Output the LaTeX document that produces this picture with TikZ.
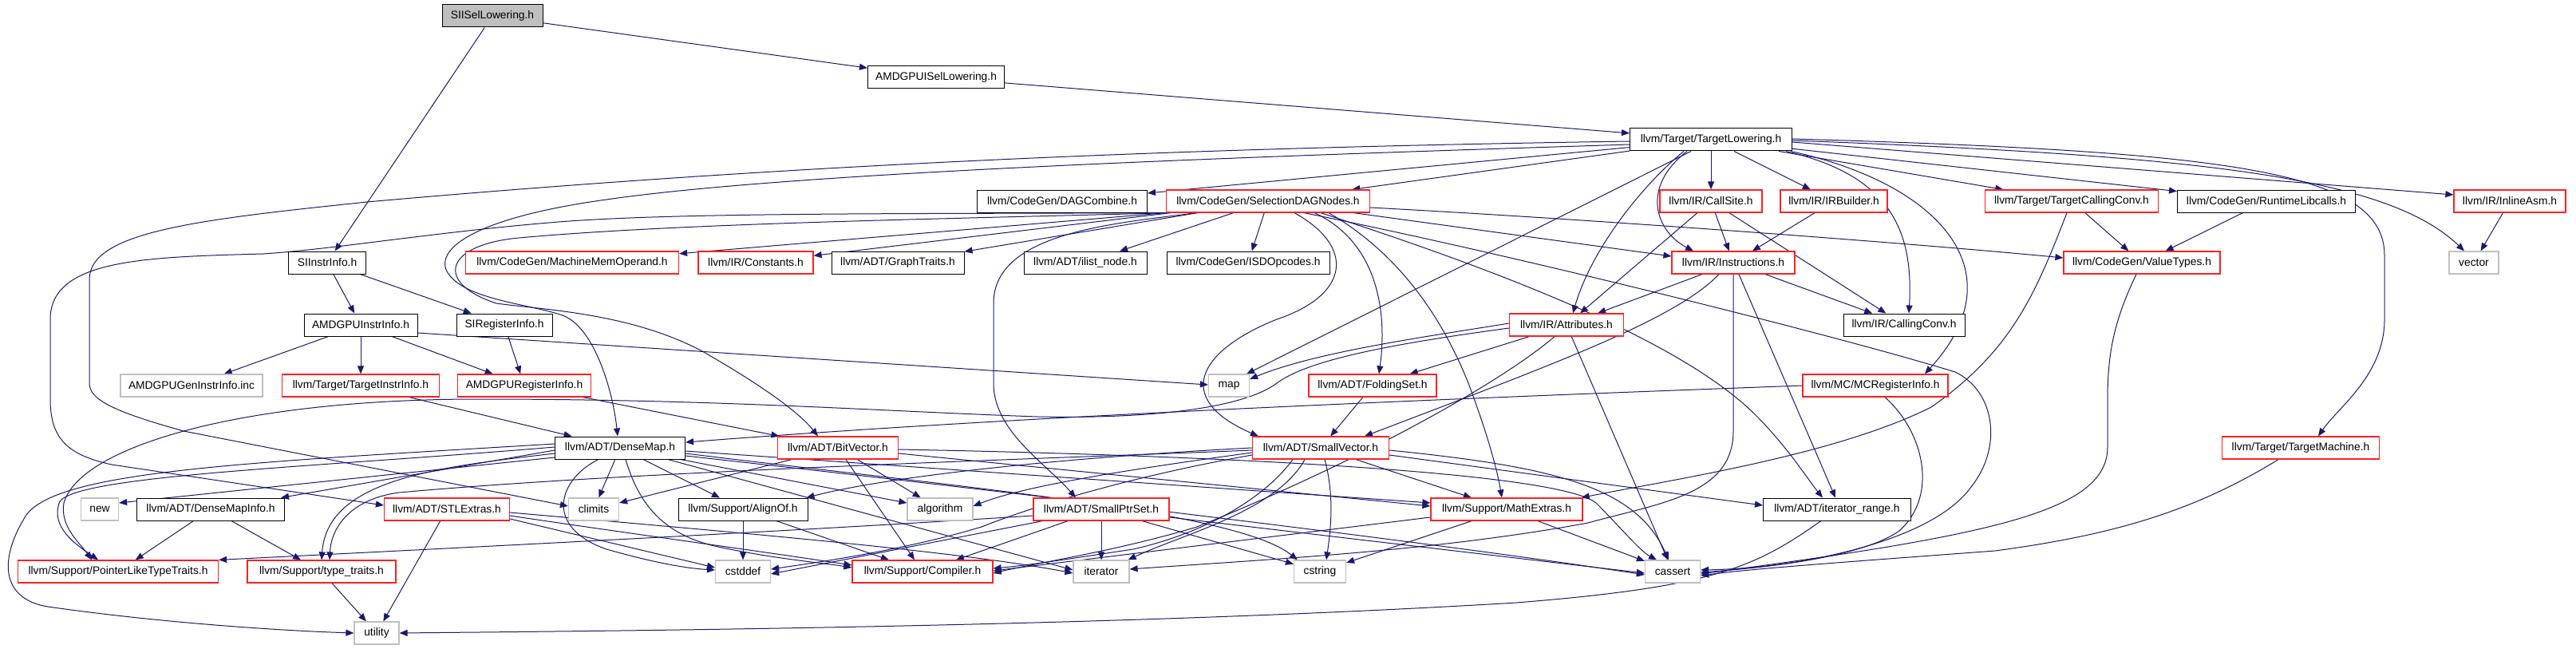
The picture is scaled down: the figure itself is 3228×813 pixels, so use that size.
\documentclass[tikz,border=0pt]{standalone}
\usepackage{fontspec}
\setmainfont{Liberation Sans}
\usetikzlibrary{arrows.meta,calc}
\pgfdeclarelayer{bg}
\pgfsetlayers{bg,main}
\definecolor{edgec}{HTML}{191970}
\definecolor{extgray}{HTML}{BFBFBF}
\definecolor{trunc}{HTML}{FF2020}
\tikzset{
  nblk/.style={draw=black, line width=1pt, minimum height=28pt, inner sep=0pt, fill=white, font=\fontsize{13.8}{16}\selectfont},
  nred/.style={nblk, draw=trunc, line width=1.2pt},
  ngray/.style={nblk, draw=extgray, line width=1.2pt},
  edg/.style={draw=edgec, line width=1pt, -{Triangle[length=10pt,width=8pt]}},
}
\begin{document}
\begin{tikzpicture}[x=1pt,y=-1pt]
\useasboundingbox (0,0) rectangle (3228,813);
% nodes
\node[nblk, fill=extgray, minimum width=126pt] (sisel) at (617,20) {SIISelLowering.h};
\node[nblk, minimum width=171pt] (amdisel) at (1173,97) {AMDGPUISelLowering.h};
\node[nblk, minimum width=203pt] (tl) at (2144,175) {llvm/Target/TargetLowering.h};
\node[nblk, minimum width=213pt] (dagc) at (1331,252) {llvm/CodeGen/DAGCombine.h};
\node[nred, minimum width=255pt] (sdn) at (1589,252) {llvm/CodeGen/SelectionDAGNodes.h};
\node[nred, minimum width=128pt] (callsite) at (2144,252) {llvm/IR/CallSite.h};
\node[nred, minimum width=134pt] (irb) at (2298,252) {llvm/IR/IRBuilder.h};
\node[nred, minimum width=217pt] (tcc) at (2596,252) {llvm/Target/TargetCallingConv.h};
\node[nblk, minimum width=223pt] (rtl) at (2840,252) {llvm/CodeGen/RuntimeLibcalls.h};
\node[nred, minimum width=140pt] (inasm) at (3145,252) {llvm/IR/InlineAsm.h};
\node[nblk, minimum width=97pt] (siinstr) at (410,329) {SIInstrInfo.h};
\node[nred, minimum width=267pt] (mmo) at (717,329) {llvm/CodeGen/MachineMemOperand.h};
\node[nred, minimum width=144pt] (const) at (947,329) {llvm/IR/Constants.h};
\node[nblk, minimum width=166pt] (graph) at (1125,329) {llvm/ADT/GraphTraits.h};
\node[nblk, minimum width=154pt] (ilist) at (1360,329) {llvm/ADT/ilist\_node.h};
\node[nblk, minimum width=204pt] (isd) at (1564,329) {llvm/CodeGen/ISDOpcodes.h};
\node[nred, minimum width=154pt] (instr) at (2172,329) {llvm/IR/Instructions.h};
\node[nred, minimum width=196pt] (vt) at (2684,329) {llvm/CodeGen/ValueTypes.h};
\node[ngray, minimum width=62pt] (vector) at (3100,329) {vector};
\node[nblk, minimum width=142pt] (amdinstr) at (452,407) {AMDGPUInstrInfo.h};
\node[nblk, minimum width=120pt] (sireg) at (632,407) {SIRegisterInfo.h};
\node[nred, minimum width=143pt] (attr) at (1963,407) {llvm/IR/Attributes.h};
\node[nblk, minimum width=152pt] (cc) at (2386,407) {llvm/IR/CallingConv.h};
\node[ngray, minimum width=178pt] (gen) at (240,483) {AMDGPUGenInstrInfo.inc};
\node[nred, minimum width=197pt] (tii) at (452,483) {llvm/Target/TargetInstrInfo.h};
\node[nred, minimum width=167pt] (amdreg) at (657,483) {AMDGPURegisterInfo.h};
\node[ngray, minimum width=51pt] (map) at (1540,483) {map};
\node[nred, minimum width=160pt] (fold) at (1720,483) {llvm/ADT/FoldingSet.h};
\node[nred, minimum width=182pt] (mcri) at (2350,483) {llvm/MC/MCRegisterInfo.h};
\node[nblk, minimum width=163pt] (dm) at (777,561) {llvm/ADT/DenseMap.h};
\node[nred, minimum width=151pt] (bv) at (1050,561) {llvm/ADT/BitVector.h};
\node[nred, minimum width=171pt] (sv) at (1655,561) {llvm/ADT/SmallVector.h};
\node[nred, minimum width=197pt] (tm) at (2883,561) {llvm/Target/TargetMachine.h};
\node[ngray, minimum width=47pt] (new) at (125,638) {new};
\node[nblk, minimum width=185pt] (dmi) at (264,638) {llvm/ADT/DenseMapInfo.h};
\node[nred, minimum width=157pt] (stl) at (560,638) {llvm/ADT/STLExtras.h};
\node[ngray, minimum width=63pt] (climits) at (744,638) {climits};
\node[nblk, minimum width=162pt] (align) at (931,638) {llvm/Support/AlignOf.h};
\node[ngray, minimum width=82pt] (algo) at (1178,638) {algorithm};
\node[nred, minimum width=170pt] (sps) at (1380,638) {llvm/ADT/SmallPtrSet.h};
\node[nred, minimum width=190pt] (math) at (1888,638) {llvm/Support/MathExtras.h};
\node[nblk, minimum width=185pt] (itr) at (2302,638) {llvm/ADT/iterator\_range.h};
\node[nred, minimum width=251pt] (plt) at (148,716) {llvm/Support/PointerLikeTypeTraits.h};
\node[nred, minimum width=186pt] (tt) at (403,716) {llvm/Support/type\_traits.h};
\node[ngray, minimum width=69pt] (cstddef) at (931,716) {cstddef};
\node[nred, minimum width=176pt] (comp) at (1156,716) {llvm/Support/Compiler.h};
\node[ngray, minimum width=70pt] (iter) at (1380,716) {iterator};
\node[ngray, minimum width=65pt] (cstring) at (1654,716) {cstring};
\node[ngray, minimum width=69pt] (cassert) at (2096,716) {cassert};
\node[ngray, minimum width=56pt] (utility) at (472,793) {utility};
\begin{pgfonlayer}{bg}
\fill[white] (0,0) rectangle (3228,813);
% top
\draw[edg] (sisel) -- (amdisel);
\draw[edg] (sisel) -- (siinstr);
\draw[edg] (amdisel) -- (tl);
\draw[edg] (siinstr) -- (amdinstr);
\draw[edg] (siinstr) -- (sireg);
\draw[edg] (amdinstr) -- (gen);
\draw[edg] (amdinstr) -- (tii);
\draw[edg] (amdinstr) -- (amdreg);
\draw[edg] ($(amdinstr.east)+(0,10)$) -- ($(map.west)+(0,-1)$);
\draw[edg] (sireg) -- (amdreg);
\draw[edg] (tii) -- (dm);
\draw[edg] (amdreg) -- (bv);
% TargetLowering
\draw[edg] (tl) -- (dagc);
\draw[edg] (tl) -- (sdn);
\draw[edg] (tl) -- (callsite);
\draw[edg] (tl) -- (irb);
\draw[edg] (tl) -- (tcc);
\draw[edg] (tl) -- (rtl);
\draw[edg] ($(tl.east)+(0,3)$) -- ($(inasm.west)+(0,-8)$);
\draw[edg] ($(tl.east)+(0,1)$) .. controls (2750,195) and (2990,220) .. ($(vector.north)+(-12,0)$);
\draw[edg] ($(tl.east)+(0,-1)$) .. controls (2800,190) and (2988,215) .. (2988,320) -- (2988,400) .. controls (2988,470) and (2930,510) .. ($(tm.north)+(22,0)$);
\draw[edg] ($(tl.south)+(-25,0)$) -- ($(map.north east)+(-4,0)$);
\draw[edg] ($(tl.south)+(-34,0)$) .. controls (2060,230) and (1995,310) .. ($(attr.north)+(8,0)$);
\draw[edg] ($(tl.south)+(-30,0)$) .. controls (2055,235) and (2075,290) .. ($(instr.north)+(-50,0)$);
\draw[edg] ($(tl.south east)+(-8,0)$) .. controls (2370,220) and (2398,290) .. ($(cc.north)+(6,0)$);
\draw[edg] ($(tl.south east)+(-2,0)$) .. controls (2430,230) and (2530,340) .. ($(mcri.north)+(62,0)$);
\draw[edg] ($(tl.west)+(0,6)$) .. controls (1600,195) and (1000,215) .. (760,250) .. controls (600,272) and (545,310) .. (560,340) .. controls (580,375) and (660,380) .. (705,395) .. controls (745,410) and (768,490) .. ($(dm.north)+(-3,0)$);
\draw[edg] ($(tl.west)+(0,2)$) .. controls (1500,185) and (1000,205) .. (460,253) .. controls (250,275) and (112,290) .. (112,350) -- (112,480) .. controls (112,500) and (140,515) .. (230,540) -- ($(climits.west)+(0,-4)$);
% SelectionDAGNodes
\draw[edg] (sdn.south west) -- (mmo);
\draw[edg] (sdn) -- (const);
\draw[edg] (sdn) -- (graph);
\draw[edg] (sdn) -- (ilist);
\draw[edg] (sdn) -- (isd);
\draw[edg] (sdn.south west) .. controls (1150,268) and (850,266) .. (700,278) .. controls (550,290) and (420,312) .. (330,318) .. controls (180,322) and (63,325) .. (63,400) -- (63,500) .. controls (63,550) and (85,570) .. (140,582) -- ($(stl.west)+(0,-5)$);
\draw[edg] ($(sdn.south west)+(5,0)$) .. controls (1150,275) and (850,280) .. (650,298) .. controls (555,307) and (545,355) .. (622,380) .. controls (680,388) and (790,392) .. (880,440) .. controls (950,480) and (1000,515) .. ($(bv.north)+(-25,0)$);
\draw[edg] ($(sdn.south)+(-90,0)$) .. controls (1400,280) and (1245,290) .. (1245,380) -- (1245,480) .. controls (1245,540) and (1310,580) .. ($(sps.north)+(-32,0)$);
\draw[edg] ($(sdn.south)+(58,0)$) .. controls (1720,300) and (1740,380) .. ($(fold.north)+(8,0)$);
\draw[edg] ($(sdn.south)+(33,0)$) .. controls (1700,310) and (1690,370) .. (1600,400) .. controls (1500,440) and (1470,500) .. ($(sv.north west)+(8,0)$);
\draw[edg] ($(sdn.south)+(76,0)$) .. controls (1740,310) and (1800,380) .. (1840,480) .. controls (1870,560) and (1878,600) .. ($(math.north)+(-6,0)$);
\draw[edg] ($(sdn.south)+(66,0)$) .. controls (1850,330) and (2100,420) .. (2200,520) .. controls (2240,560) and (2265,600) .. ($(itr.north)+(-18,0)$);
\draw[edg] ($(sdn.south east)+(-21,0)$) -- ($(instr.west)+(0,-8)$);
\draw[edg] ($(sdn.south)+(45,0)$) .. controls (1900,320) and (2300,420) .. (2450,466) .. controls (2500,490) and (2510,560) .. (2470,610) .. controls (2420,680) and (2250,712) .. ($(cassert.east)+(0,-2)$);
\draw[edg] ($(sdn.east)+(0,8)$) .. controls (2000,275) and (2400,305) .. ($(vt.west)+(0,-6)$);
% IR
\draw[edg] (callsite) -- (attr);
\draw[edg] (callsite) -- (instr);
\draw[edg] (callsite) -- (cc);
\draw[edg] (irb) -- (instr);
\draw[edg] (instr) -- (attr);
\draw[edg] (instr) -- (cc);
\draw[edg] ($(instr.south)+(-18,0)$) .. controls (2100,400) and (1950,455) .. ($(sv.north)+(55,0)$);
\draw[edg] ($(instr.south)+(7,0)$) -- ($(itr.north)+(-2,0)$);
\draw[edg] (instr.south) -- (2172,540) .. controls (2172,620) and (2080,630) .. (1990,655) .. controls (1800,690) and (1600,700) .. ($(iter.east)+(0,-3)$);
\draw[edg] (attr) -- (fold);
\draw[edg] ($(attr.west)+(0,-2)$) .. controls (1800,420) and (1650,440) .. ($(map.east)+(0,-8)$);
\draw[edg] ($(attr.west)+(0,4)$) .. controls (1750,430) and (1640,450) .. (1600,480) .. controls (1560,510) and (1450,525) .. (1300,522) .. controls (1100,515) and (900,500) .. (600,500) .. controls (300,500) and (100,560) .. (80,630) .. controls (75,660) and (100,680) .. ($(plt.north)+(-33,0)$);
\draw[edg] (attr) -- (cassert);
\draw[edg] ($(attr.south)+(-15,0)$) .. controls (1880,480) and (1700,580) .. (1500,660) .. controls (1400,690) and (1300,705) .. ($(comp.east)+(0,2)$);
\draw[edg] (fold) -- (sv);
\draw[edg] (mcri.west) .. controls (1800,500) and (1300,520) .. ($(dm.east)+(0,-7)$);
\draw[edg] ($(mcri.south)+(12,0)$) .. controls (2410,540) and (2430,620) .. (2380,665) .. controls (2330,700) and (2200,712) .. ($(cassert.east)+(0,1)$);
\draw[edg] (tcc) -- (vt);
\draw[edg] ($(tcc.south)+(-6,0)$) .. controls (2550,370) and (2520,440) .. (2420,510) .. controls (2300,570) and (2100,600) .. ($(math.north east)+(-2,0)$);
\draw[edg] (rtl) -- (vt);
\draw[edg] (inasm) -- (vector);
\draw[edg] ($(vt.south)+(-7,0)$) .. controls (2650,400) and (2641,440) .. (2641,500) -- (2641,560) .. controls (2641,640) and (2500,670) .. ($(cassert.east)+(0,3)$);
\draw[edg] ($(tm.south)+(-28,0)$) .. controls (2750,640) and (2650,670) .. (2500,690) .. controls (2300,705) and (2200,712) .. ($(cassert.east)+(0,5)$);
% DenseMap
\draw[edg] ($(dm.west)+(0,12)$) -- ($(new.east)+(0,-8)$);
\draw[edg] ($(dm.west)+(0,3)$) -- ($(dmi.north east)+(-5,0)$);
\draw[edg] ($(dm.west)+(0,-1)$) .. controls (400,585) and (100,595) .. (75,628) .. controls (62,660) and (95,682) .. ($(plt.north)+(-25,0)$);
\draw[edg] ($(dm.west)+(0,-5)$) .. controls (300,580) and (60,590) .. (30,650) .. controls (0,700) and (0,750) .. (60,760) .. controls (200,780) and (350,790) .. (utility.west);
\draw[edg] ($(dm.west)+(0,7)$) .. controls (550,585) and (410,600) .. (tt.north);
\draw[edg] (dm) -- (climits);
\draw[edg] (dm) -- (align);
\draw[edg] (dm) -- (algo);
\draw[edg] ($(dm.south)+(-27,0)$) .. controls (700,600) and (680,660) .. (760,688) .. controls (820,705) and (860,712) .. ($(cstddef.west)+(0,-2)$);
\draw[edg] ($(dm.south)+(7,0)$) .. controls (800,630) and (830,670) .. (900,685) .. controls (970,700) and (1030,705) .. ($(comp.west)+(0,-5)$);
\draw[edg] ($(dm.south)+(60,0)$) -- ($(iter.west)+(0,-2)$);
\draw[edg] ($(dm.east)+(0,4)$) -- ($(math.west)+(0,-8)$);
\draw[edg] ($(dm.east)+(0,7)$) .. controls (1200,610) and (1550,640) .. ($(cstring.north west)+(5,0)$);
\draw[edg] ($(dm.east)+(0,10)$) .. controls (1300,620) and (1800,680) .. ($(cassert.west)+(0,4)$);
% lower
\draw[edg] (dmi) -- (plt);
\draw[edg] (dmi) -- (tt);
\draw[edg] (stl) -- (utility);
\draw[edg] ($(stl.east)+(0,12)$) -- ($(cstddef.west)+(0,-5)$);
\draw[edg] ($(stl.east)+(0,8)$) .. controls (800,670) and (950,690) .. ($(comp.west)+(0,-8)$);
\draw[edg] ($(stl.east)+(0,4)$) .. controls (900,665) and (1200,690) .. ($(iter.west)+(0,2)$);
\draw[edg] (align) -- (cstddef);
\draw[edg] (align) -- (comp);
\draw[edg] (bv) -- (comp);
\draw[edg] (bv) -- (algo);
\draw[edg] (bv) -- (climits);
\draw[edg] ($(bv.east)+(0,7)$) -- ($(math.west)+(0,-4)$);
\draw[edg] ($(bv.east)+(0,2)$) .. controls (1500,570) and (1950,590) .. (2000,630) .. controls (2030,660) and (2055,690) .. ($(cassert.north)+(-20,0)$);
% SmallVector
\draw[edg] ($(sv.west)+(0,3)$) .. controls (1300,575) and (800,590) .. (500,617) .. controls (440,625) and (415,660) .. ($(tt.north)+(10,0)$);
\draw[edg] ($(sv.west)+(0,6)$) .. controls (1400,590) and (1280,610) .. ($(algo.east)+(0,-4)$);
\draw[edg] (sv.west) .. controls (1300,575) and (1100,600) .. ($(align.north east)+(-2,0)$);
\draw[edg] ($(sv.west)+(0,9)$) .. controls (1400,600) and (1280,640) .. (1230,660) .. controls (1130,690) and (1020,705) .. ($(cstddef.east)+(0,-3)$);
\draw[edg] ($(sv.south)+(-35,0)$) .. controls (1580,630) and (1500,670) .. (1420,688) .. controls (1340,700) and (1290,708) .. ($(comp.east)+(0,-4)$);
\draw[edg] ($(sv.south)+(-20,0)$) .. controls (1600,640) and (1480,670) .. ($(iter.north east)+(-2,0)$);
\draw[edg] ($(sv.south)+(5,0)$) .. controls (1672,620) and (1668,660) .. ($(cstring.north)+(8,0)$);
\draw[edg] (sv) -- (math);
\draw[edg] ($(sv.east)+(0,3)$) .. controls (1950,585) and (2050,610) .. ($(cassert.north)+(-5,0)$);
\draw[edg] ($(sv.east)+(0,9)$) -- ($(itr.west)+(0,-5)$);
% SmallPtrSet
\draw[edg] (sps) -- (comp);
\draw[edg] (sps) -- (iter);
\draw[edg] (sps) -- (cstring);
\draw[edg] ($(sps.east)+(0,10)$) -- ($(cassert.west)+(0,2)$);
\draw[edg] ($(sps.south west)+(12,0)$) -- ($(cstddef.east)+(0,3)$);
\draw[edg] ($(sps.west)+(0,8)$) .. controls (1000,665) and (600,685) .. (plt.north east);
% MathExtras etc.
\draw[edg] (math) -- (cstring);
\draw[edg] (math) -- (cassert);
\draw[edg] ($(math.west)+(0,10)$) -- ($(comp.east)+(0,-1)$);
\draw[edg] ($(itr.south)+(-20,0)$) .. controls (2200,710) and (2150,735) .. (1900,755) .. controls (1400,785) and (800,790) .. (utility.east);
\draw[edg] (tt) -- (utility);
\end{pgfonlayer}
\end{tikzpicture}
\end{document}
